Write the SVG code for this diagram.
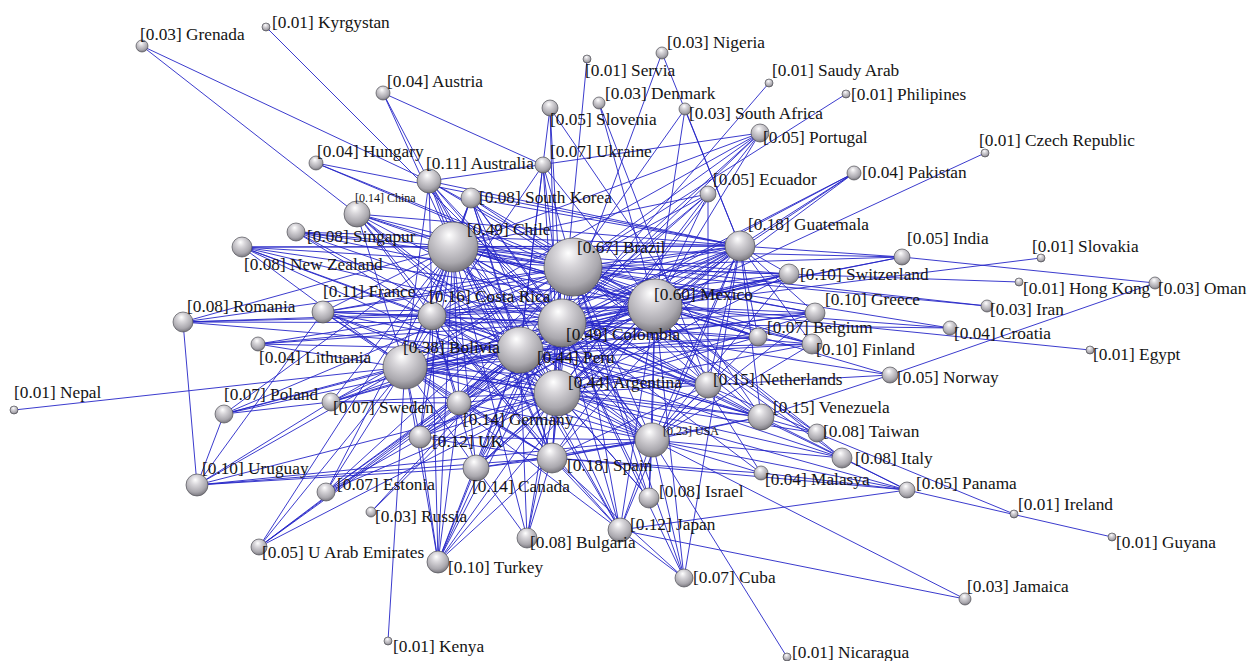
<svg xmlns="http://www.w3.org/2000/svg" width="1255" height="661" viewBox="0 0 1255 661">
<style>
.lbl{font-family:"Liberation Serif","Times New Roman",serif;font-size:17.3px;fill:#141414}
.sm{font-size:12px}
.s{fill:url(#sph);stroke:#505058;stroke-width:0.7}
#edges line{stroke:#2626c8;stroke-width:1;stroke-opacity:0.9}
</style>
<defs>
<radialGradient id="sph" cx="0.45" cy="0.34" r="0.7" fx="0.42" fy="0.26">
<stop offset="0" stop-color="#ffffff"/>
<stop offset="0.3" stop-color="#d8d6da"/>
<stop offset="0.72" stop-color="#aaa8ae"/>
<stop offset="1" stop-color="#6f6d74"/>
</radialGradient>
</defs>
<rect width="1255" height="661" fill="#ffffff"/>
<g id="edges">
<line x1="573" y1="267" x2="655" y2="306"/><line x1="573" y1="267" x2="453" y2="247"/><line x1="573" y1="267" x2="562" y2="323"/><line x1="573" y1="267" x2="520" y2="350"/><line x1="573" y1="267" x2="557" y2="393"/><line x1="573" y1="267" x2="405" y2="367"/><line x1="573" y1="267" x2="652" y2="440"/><line x1="573" y1="267" x2="740" y2="246"/><line x1="573" y1="267" x2="552" y2="458"/><line x1="573" y1="267" x2="432" y2="316"/>
<line x1="655" y1="306" x2="453" y2="247"/><line x1="655" y1="306" x2="562" y2="323"/><line x1="655" y1="306" x2="520" y2="350"/><line x1="655" y1="306" x2="557" y2="393"/><line x1="655" y1="306" x2="405" y2="367"/><line x1="655" y1="306" x2="652" y2="440"/><line x1="655" y1="306" x2="740" y2="246"/><line x1="655" y1="306" x2="552" y2="458"/><line x1="655" y1="306" x2="432" y2="316"/>
<line x1="453" y1="247" x2="562" y2="323"/><line x1="453" y1="247" x2="520" y2="350"/><line x1="453" y1="247" x2="557" y2="393"/><line x1="453" y1="247" x2="405" y2="367"/><line x1="453" y1="247" x2="652" y2="440"/><line x1="453" y1="247" x2="740" y2="246"/><line x1="453" y1="247" x2="552" y2="458"/><line x1="453" y1="247" x2="432" y2="316"/>
<line x1="562" y1="323" x2="520" y2="350"/><line x1="562" y1="323" x2="557" y2="393"/><line x1="562" y1="323" x2="405" y2="367"/><line x1="562" y1="323" x2="652" y2="440"/><line x1="562" y1="323" x2="740" y2="246"/><line x1="562" y1="323" x2="552" y2="458"/><line x1="562" y1="323" x2="432" y2="316"/>
<line x1="520" y1="350" x2="557" y2="393"/><line x1="520" y1="350" x2="405" y2="367"/><line x1="520" y1="350" x2="652" y2="440"/><line x1="520" y1="350" x2="740" y2="246"/><line x1="520" y1="350" x2="552" y2="458"/><line x1="520" y1="350" x2="432" y2="316"/>
<line x1="557" y1="393" x2="405" y2="367"/><line x1="557" y1="393" x2="652" y2="440"/><line x1="557" y1="393" x2="740" y2="246"/><line x1="557" y1="393" x2="552" y2="458"/><line x1="557" y1="393" x2="432" y2="316"/>
<line x1="405" y1="367" x2="652" y2="440"/><line x1="405" y1="367" x2="740" y2="246"/><line x1="405" y1="367" x2="552" y2="458"/><line x1="405" y1="367" x2="432" y2="316"/>
<line x1="652" y1="440" x2="740" y2="246"/><line x1="652" y1="440" x2="552" y2="458"/><line x1="652" y1="440" x2="432" y2="316"/><line x1="740" y1="246" x2="552" y2="458"/><line x1="740" y1="246" x2="432" y2="316"/><line x1="552" y1="458" x2="432" y2="316"/>
<line x1="708" y1="385" x2="573" y2="267"/><line x1="708" y1="385" x2="655" y2="306"/><line x1="708" y1="385" x2="453" y2="247"/><line x1="708" y1="385" x2="562" y2="323"/><line x1="708" y1="385" x2="520" y2="350"/><line x1="708" y1="385" x2="557" y2="393"/><line x1="708" y1="385" x2="405" y2="367"/><line x1="708" y1="385" x2="652" y2="440"/><line x1="708" y1="385" x2="740" y2="246"/><line x1="708" y1="385" x2="552" y2="458"/><line x1="708" y1="385" x2="432" y2="316"/>
<line x1="761" y1="417" x2="573" y2="267"/><line x1="761" y1="417" x2="655" y2="306"/><line x1="761" y1="417" x2="453" y2="247"/><line x1="761" y1="417" x2="562" y2="323"/><line x1="761" y1="417" x2="520" y2="350"/><line x1="761" y1="417" x2="557" y2="393"/><line x1="761" y1="417" x2="405" y2="367"/><line x1="761" y1="417" x2="652" y2="440"/><line x1="761" y1="417" x2="740" y2="246"/><line x1="761" y1="417" x2="552" y2="458"/><line x1="761" y1="417" x2="432" y2="316"/>
<line x1="357" y1="214" x2="573" y2="267"/><line x1="357" y1="214" x2="655" y2="306"/><line x1="357" y1="214" x2="453" y2="247"/><line x1="357" y1="214" x2="562" y2="323"/><line x1="357" y1="214" x2="520" y2="350"/><line x1="357" y1="214" x2="557" y2="393"/><line x1="357" y1="214" x2="405" y2="367"/><line x1="357" y1="214" x2="432" y2="316"/><line x1="357" y1="214" x2="552" y2="458"/><line x1="357" y1="214" x2="652" y2="440"/><line x1="357" y1="214" x2="740" y2="246"/>
<line x1="476" y1="468" x2="573" y2="267"/><line x1="476" y1="468" x2="655" y2="306"/><line x1="476" y1="468" x2="453" y2="247"/><line x1="476" y1="468" x2="562" y2="323"/><line x1="476" y1="468" x2="520" y2="350"/><line x1="476" y1="468" x2="557" y2="393"/><line x1="476" y1="468" x2="405" y2="367"/><line x1="476" y1="468" x2="652" y2="440"/><line x1="476" y1="468" x2="552" y2="458"/><line x1="476" y1="468" x2="432" y2="316"/><line x1="476" y1="468" x2="740" y2="246"/>
<line x1="459" y1="403" x2="573" y2="267"/><line x1="459" y1="403" x2="655" y2="306"/><line x1="459" y1="403" x2="453" y2="247"/><line x1="459" y1="403" x2="562" y2="323"/><line x1="459" y1="403" x2="520" y2="350"/><line x1="459" y1="403" x2="557" y2="393"/><line x1="459" y1="403" x2="405" y2="367"/><line x1="459" y1="403" x2="652" y2="440"/><line x1="459" y1="403" x2="552" y2="458"/><line x1="459" y1="403" x2="432" y2="316"/><line x1="459" y1="403" x2="740" y2="246"/>
<line x1="620" y1="530" x2="573" y2="267"/><line x1="620" y1="530" x2="655" y2="306"/><line x1="620" y1="530" x2="453" y2="247"/><line x1="620" y1="530" x2="562" y2="323"/><line x1="620" y1="530" x2="520" y2="350"/><line x1="620" y1="530" x2="557" y2="393"/><line x1="620" y1="530" x2="405" y2="367"/><line x1="620" y1="530" x2="652" y2="440"/><line x1="620" y1="530" x2="552" y2="458"/><line x1="620" y1="530" x2="740" y2="246"/><line x1="620" y1="530" x2="432" y2="316"/>
<line x1="429" y1="181" x2="573" y2="267"/><line x1="429" y1="181" x2="655" y2="306"/><line x1="429" y1="181" x2="453" y2="247"/><line x1="429" y1="181" x2="562" y2="323"/><line x1="429" y1="181" x2="520" y2="350"/><line x1="429" y1="181" x2="557" y2="393"/><line x1="429" y1="181" x2="405" y2="367"/><line x1="429" y1="181" x2="432" y2="316"/><line x1="429" y1="181" x2="740" y2="246"/><line x1="429" y1="181" x2="652" y2="440"/><line x1="429" y1="181" x2="552" y2="458"/>
<line x1="420" y1="437" x2="573" y2="267"/><line x1="420" y1="437" x2="655" y2="306"/><line x1="420" y1="437" x2="453" y2="247"/><line x1="420" y1="437" x2="562" y2="323"/><line x1="420" y1="437" x2="520" y2="350"/><line x1="420" y1="437" x2="557" y2="393"/><line x1="420" y1="437" x2="405" y2="367"/><line x1="420" y1="437" x2="652" y2="440"/><line x1="420" y1="437" x2="552" y2="458"/><line x1="420" y1="437" x2="740" y2="246"/><line x1="420" y1="437" x2="432" y2="316"/>
<line x1="438" y1="562" x2="573" y2="267"/><line x1="438" y1="562" x2="655" y2="306"/><line x1="438" y1="562" x2="453" y2="247"/><line x1="438" y1="562" x2="562" y2="323"/><line x1="438" y1="562" x2="520" y2="350"/><line x1="438" y1="562" x2="557" y2="393"/><line x1="438" y1="562" x2="405" y2="367"/><line x1="438" y1="562" x2="432" y2="316"/><line x1="438" y1="562" x2="459" y2="403"/><line x1="438" y1="562" x2="420" y2="437"/><line x1="438" y1="562" x2="476" y2="468"/><line x1="438" y1="562" x2="552" y2="458"/>
<line x1="323" y1="312" x2="573" y2="267"/><line x1="323" y1="312" x2="655" y2="306"/><line x1="323" y1="312" x2="453" y2="247"/><line x1="323" y1="312" x2="562" y2="323"/><line x1="323" y1="312" x2="520" y2="350"/><line x1="323" y1="312" x2="557" y2="393"/><line x1="323" y1="312" x2="405" y2="367"/><line x1="323" y1="312" x2="432" y2="316"/><line x1="323" y1="312" x2="740" y2="246"/><line x1="323" y1="312" x2="652" y2="440"/><line x1="323" y1="312" x2="552" y2="458"/>
<line x1="789" y1="274" x2="573" y2="267"/><line x1="789" y1="274" x2="655" y2="306"/><line x1="789" y1="274" x2="453" y2="247"/><line x1="789" y1="274" x2="562" y2="323"/><line x1="789" y1="274" x2="520" y2="350"/><line x1="789" y1="274" x2="557" y2="393"/><line x1="789" y1="274" x2="405" y2="367"/><line x1="789" y1="274" x2="740" y2="246"/><line x1="789" y1="274" x2="652" y2="440"/><line x1="789" y1="274" x2="432" y2="316"/>
<line x1="815" y1="313" x2="573" y2="267"/><line x1="815" y1="313" x2="655" y2="306"/><line x1="815" y1="313" x2="453" y2="247"/><line x1="815" y1="313" x2="562" y2="323"/><line x1="815" y1="313" x2="520" y2="350"/><line x1="815" y1="313" x2="557" y2="393"/><line x1="815" y1="313" x2="405" y2="367"/><line x1="815" y1="313" x2="740" y2="246"/><line x1="815" y1="313" x2="652" y2="440"/>
<line x1="812" y1="344" x2="573" y2="267"/><line x1="812" y1="344" x2="655" y2="306"/><line x1="812" y1="344" x2="453" y2="247"/><line x1="812" y1="344" x2="562" y2="323"/><line x1="812" y1="344" x2="520" y2="350"/><line x1="812" y1="344" x2="557" y2="393"/><line x1="812" y1="344" x2="405" y2="367"/><line x1="812" y1="344" x2="740" y2="246"/><line x1="812" y1="344" x2="652" y2="440"/>
<line x1="471" y1="198" x2="573" y2="267"/><line x1="471" y1="198" x2="655" y2="306"/><line x1="471" y1="198" x2="453" y2="247"/><line x1="471" y1="198" x2="562" y2="323"/><line x1="471" y1="198" x2="520" y2="350"/><line x1="471" y1="198" x2="557" y2="393"/><line x1="471" y1="198" x2="405" y2="367"/><line x1="471" y1="198" x2="432" y2="316"/><line x1="471" y1="198" x2="740" y2="246"/><line x1="471" y1="198" x2="652" y2="440"/><line x1="471" y1="198" x2="552" y2="458"/>
<line x1="758" y1="337" x2="573" y2="267"/><line x1="758" y1="337" x2="655" y2="306"/><line x1="758" y1="337" x2="453" y2="247"/><line x1="758" y1="337" x2="562" y2="323"/><line x1="758" y1="337" x2="520" y2="350"/><line x1="758" y1="337" x2="557" y2="393"/><line x1="758" y1="337" x2="405" y2="367"/><line x1="758" y1="337" x2="740" y2="246"/><line x1="758" y1="337" x2="652" y2="440"/>
<line x1="842" y1="458" x2="655" y2="306"/><line x1="842" y1="458" x2="562" y2="323"/><line x1="842" y1="458" x2="557" y2="393"/><line x1="842" y1="458" x2="520" y2="350"/><line x1="842" y1="458" x2="652" y2="440"/><line x1="842" y1="458" x2="907" y2="490"/><line x1="842" y1="458" x2="573" y2="267"/>
<line x1="817" y1="433" x2="655" y2="306"/><line x1="817" y1="433" x2="562" y2="323"/><line x1="817" y1="433" x2="573" y2="267"/><line x1="817" y1="433" x2="557" y2="393"/><line x1="817" y1="433" x2="1014" y2="514"/><line x1="817" y1="433" x2="520" y2="350"/>
<line x1="649" y1="498" x2="652" y2="440"/><line x1="649" y1="498" x2="655" y2="306"/><line x1="649" y1="498" x2="562" y2="323"/><line x1="649" y1="498" x2="573" y2="267"/><line x1="649" y1="498" x2="557" y2="393"/><line x1="649" y1="498" x2="520" y2="350"/>
<line x1="527" y1="538" x2="552" y2="458"/><line x1="527" y1="538" x2="557" y2="393"/><line x1="527" y1="538" x2="520" y2="350"/><line x1="527" y1="538" x2="562" y2="323"/><line x1="527" y1="538" x2="476" y2="468"/><line x1="527" y1="538" x2="453" y2="247"/>
<line x1="684" y1="578" x2="652" y2="440"/><line x1="684" y1="578" x2="655" y2="306"/><line x1="684" y1="578" x2="573" y2="267"/><line x1="684" y1="578" x2="562" y2="323"/><line x1="684" y1="578" x2="740" y2="246"/><line x1="684" y1="578" x2="620" y2="530"/><line x1="684" y1="578" x2="552" y2="458"/>
<line x1="761" y1="473" x2="652" y2="440"/><line x1="761" y1="473" x2="552" y2="458"/><line x1="761" y1="473" x2="655" y2="306"/><line x1="761" y1="473" x2="562" y2="323"/><line x1="761" y1="473" x2="907" y2="490"/>
<line x1="907" y1="490" x2="652" y2="440"/><line x1="907" y1="490" x2="552" y2="458"/><line x1="907" y1="490" x2="557" y2="393"/><line x1="907" y1="490" x2="620" y2="530"/><line x1="907" y1="490" x2="1112" y2="537"/><line x1="907" y1="490" x2="761" y2="417"/>
<line x1="890" y1="375" x2="655" y2="306"/><line x1="890" y1="375" x2="708" y2="385"/><line x1="890" y1="375" x2="761" y2="417"/><line x1="890" y1="375" x2="562" y2="323"/><line x1="890" y1="375" x2="1155" y2="283"/>
<line x1="902" y1="257" x2="740" y2="246"/><line x1="902" y1="257" x2="573" y2="267"/><line x1="902" y1="257" x2="453" y2="247"/><line x1="902" y1="257" x2="655" y2="306"/><line x1="902" y1="257" x2="562" y2="323"/><line x1="902" y1="257" x2="1155" y2="283"/>
<line x1="950" y1="328" x2="655" y2="306"/><line x1="950" y1="328" x2="573" y2="267"/><line x1="950" y1="328" x2="562" y2="323"/>
<line x1="987" y1="306" x2="573" y2="267"/><line x1="987" y1="306" x2="453" y2="247"/>
<line x1="854" y1="173" x2="655" y2="306"/><line x1="854" y1="173" x2="562" y2="323"/><line x1="854" y1="173" x2="557" y2="393"/><line x1="854" y1="173" x2="740" y2="246"/><line x1="854" y1="173" x2="520" y2="350"/>
<line x1="760" y1="133" x2="573" y2="267"/><line x1="760" y1="133" x2="655" y2="306"/><line x1="760" y1="133" x2="562" y2="323"/><line x1="760" y1="133" x2="453" y2="247"/><line x1="760" y1="133" x2="557" y2="393"/><line x1="760" y1="133" x2="520" y2="350"/><line x1="760" y1="133" x2="432" y2="316"/><line x1="760" y1="133" x2="429" y2="181"/>
<line x1="708" y1="194" x2="573" y2="267"/><line x1="708" y1="194" x2="655" y2="306"/><line x1="708" y1="194" x2="562" y2="323"/><line x1="708" y1="194" x2="520" y2="350"/><line x1="708" y1="194" x2="557" y2="393"/><line x1="708" y1="194" x2="453" y2="247"/><line x1="708" y1="194" x2="708" y2="385"/>
<line x1="685" y1="109" x2="573" y2="267"/><line x1="685" y1="109" x2="655" y2="306"/><line x1="685" y1="109" x2="740" y2="246"/>
<line x1="662" y1="53" x2="562" y2="323"/><line x1="662" y1="53" x2="740" y2="246"/>
<line x1="599" y1="103" x2="655" y2="306"/><line x1="599" y1="103" x2="708" y2="385"/>
<line x1="587" y1="59" x2="562" y2="323"/>
<line x1="550" y1="108" x2="562" y2="323"/><line x1="550" y1="108" x2="557" y2="393"/><line x1="550" y1="108" x2="761" y2="417"/><line x1="550" y1="108" x2="520" y2="350"/>
<line x1="543" y1="165" x2="562" y2="323"/><line x1="543" y1="165" x2="520" y2="350"/><line x1="543" y1="165" x2="557" y2="393"/><line x1="543" y1="165" x2="655" y2="306"/><line x1="543" y1="165" x2="573" y2="267"/><line x1="543" y1="165" x2="405" y2="367"/><line x1="543" y1="165" x2="383" y2="93"/>
<line x1="769" y1="83" x2="562" y2="323"/>
<line x1="846" y1="94" x2="573" y2="267"/>
<line x1="985" y1="153" x2="655" y2="306"/>
<line x1="1041" y1="258" x2="655" y2="306"/>
<line x1="1019" y1="282" x2="573" y2="267"/>
<line x1="1090" y1="350" x2="655" y2="306"/>
<line x1="383" y1="93" x2="429" y2="181"/><line x1="383" y1="93" x2="453" y2="247"/>
<line x1="316" y1="163" x2="740" y2="246"/><line x1="316" y1="163" x2="573" y2="267"/><line x1="316" y1="163" x2="655" y2="306"/>
<line x1="142" y1="46" x2="357" y2="214"/><line x1="142" y1="46" x2="429" y2="181"/>
<line x1="266" y1="27" x2="562" y2="323"/>
<line x1="296" y1="232" x2="453" y2="247"/><line x1="296" y1="232" x2="573" y2="267"/><line x1="296" y1="232" x2="655" y2="306"/><line x1="296" y1="232" x2="562" y2="323"/><line x1="296" y1="232" x2="520" y2="350"/><line x1="296" y1="232" x2="432" y2="316"/><line x1="296" y1="232" x2="740" y2="246"/>
<line x1="242" y1="247" x2="453" y2="247"/><line x1="242" y1="247" x2="573" y2="267"/><line x1="242" y1="247" x2="655" y2="306"/><line x1="242" y1="247" x2="562" y2="323"/><line x1="242" y1="247" x2="432" y2="316"/><line x1="242" y1="247" x2="520" y2="350"/><line x1="242" y1="247" x2="557" y2="393"/><line x1="242" y1="247" x2="405" y2="367"/><line x1="242" y1="247" x2="740" y2="246"/>
<line x1="183" y1="322" x2="573" y2="267"/><line x1="183" y1="322" x2="562" y2="323"/><line x1="183" y1="322" x2="520" y2="350"/><line x1="183" y1="322" x2="655" y2="306"/><line x1="183" y1="322" x2="453" y2="247"/><line x1="183" y1="322" x2="197" y2="485"/><line x1="183" y1="322" x2="432" y2="316"/>
<line x1="258" y1="344" x2="562" y2="323"/><line x1="258" y1="344" x2="520" y2="350"/><line x1="258" y1="344" x2="655" y2="306"/><line x1="258" y1="344" x2="557" y2="393"/><line x1="258" y1="344" x2="432" y2="316"/>
<line x1="224" y1="414" x2="331" y2="402"/><line x1="224" y1="414" x2="405" y2="367"/><line x1="224" y1="414" x2="453" y2="247"/><line x1="224" y1="414" x2="562" y2="323"/><line x1="224" y1="414" x2="520" y2="350"/><line x1="224" y1="414" x2="573" y2="267"/>
<line x1="331" y1="402" x2="405" y2="367"/><line x1="331" y1="402" x2="520" y2="350"/><line x1="331" y1="402" x2="562" y2="323"/><line x1="331" y1="402" x2="557" y2="393"/><line x1="331" y1="402" x2="655" y2="306"/><line x1="331" y1="402" x2="573" y2="267"/><line x1="331" y1="402" x2="459" y2="403"/><line x1="331" y1="402" x2="453" y2="247"/>
<line x1="14" y1="410" x2="405" y2="367"/>
<line x1="197" y1="485" x2="224" y2="414"/><line x1="197" y1="485" x2="323" y2="312"/><line x1="197" y1="485" x2="331" y2="402"/><line x1="197" y1="485" x2="405" y2="367"/><line x1="197" y1="485" x2="476" y2="468"/><line x1="197" y1="485" x2="552" y2="458"/><line x1="197" y1="485" x2="652" y2="440"/><line x1="197" y1="485" x2="557" y2="393"/>
<line x1="259" y1="547" x2="453" y2="247"/><line x1="259" y1="547" x2="405" y2="367"/><line x1="259" y1="547" x2="520" y2="350"/><line x1="259" y1="547" x2="562" y2="323"/><line x1="259" y1="547" x2="557" y2="393"/><line x1="259" y1="547" x2="459" y2="403"/>
<line x1="326" y1="492" x2="453" y2="247"/><line x1="326" y1="492" x2="405" y2="367"/><line x1="326" y1="492" x2="520" y2="350"/><line x1="326" y1="492" x2="562" y2="323"/><line x1="326" y1="492" x2="573" y2="267"/><line x1="326" y1="492" x2="557" y2="393"/><line x1="326" y1="492" x2="655" y2="306"/>
<line x1="371" y1="512" x2="520" y2="350"/><line x1="371" y1="512" x2="562" y2="323"/>
<line x1="388" y1="641" x2="405" y2="367"/>
<line x1="965" y1="599" x2="652" y2="440"/><line x1="965" y1="599" x2="620" y2="530"/>
<line x1="787" y1="657" x2="652" y2="440"/>
</g>
<g id="nodes">
<g id="n-brazil"><circle class="s" cx="573" cy="267" r="29"/><text class="lbl" x="577" y="253">[0.67] Brazil</text></g>
<g id="n-mexico"><circle class="s" cx="655" cy="306" r="27"/><text class="lbl" x="654" y="300">[0.60] Mexico</text></g>
<g id="n-chile"><circle class="s" cx="453" cy="247" r="25"/><text class="lbl" x="467" y="235">[0.49] Chile</text></g>
<g id="n-colombia"><circle class="s" cx="562" cy="323" r="24"/><text class="lbl" x="566" y="340">[0.49] Colombia</text></g>
<g id="n-peru"><circle class="s" cx="520" cy="350" r="23"/><text class="lbl" x="537" y="363">[0.44] Peru</text></g>
<g id="n-argentina"><circle class="s" cx="557" cy="393" r="23"/><text class="lbl" x="568" y="388">[0.44] Argentina</text></g>
<g id="n-bolivia"><circle class="s" cx="405" cy="367" r="22"/><text class="lbl" x="403" y="353">[0.38] Bolivia</text></g>
<g id="n-usa"><circle class="s" cx="652" cy="440" r="17"/><text class="lbl sm" x="663" y="435">[0.23] USA</text></g>
<g id="n-guatemala"><circle class="s" cx="740" cy="246" r="15"/><text class="lbl" x="748" y="230">[0.18] Guatemala</text></g>
<g id="n-spain"><circle class="s" cx="552" cy="458" r="15"/><text class="lbl" x="567" y="471">[0.18] Spain</text></g>
<g id="n-costarica"><circle class="s" cx="432" cy="316" r="14"/><text class="lbl" x="429" y="302">[0.16] Costa Rica</text></g>
<g id="n-netherlands"><circle class="s" cx="708" cy="385" r="13"/><text class="lbl" x="713" y="385">[0.15] Netherlands</text></g>
<g id="n-venezuela"><circle class="s" cx="761" cy="417" r="13"/><text class="lbl" x="773" y="413">[0.15] Venezuela</text></g>
<g id="n-china"><circle class="s" cx="357" cy="214" r="13"/><text class="lbl sm" x="355" y="202">[0.14] China</text></g>
<g id="n-canada"><circle class="s" cx="476" cy="468" r="13"/><text class="lbl" x="472" y="492">[0.14] Canada</text></g>
<g id="n-germany"><circle class="s" cx="459" cy="403" r="12"/><text class="lbl" x="463" y="425">[0.14] Germany</text></g>
<g id="n-japan"><circle class="s" cx="620" cy="530" r="12"/><text class="lbl" x="630" y="530">[0.12] Japan</text></g>
<g id="n-australia"><circle class="s" cx="429" cy="181" r="12"/><text class="lbl" x="426" y="169">[0.11] Australia</text></g>
<g id="n-uk"><circle class="s" cx="420" cy="437" r="11"/><text class="lbl" x="432" y="447">[0.12] UK</text></g>
<g id="n-turkey"><circle class="s" cx="438" cy="562" r="11"/><text class="lbl" x="448" y="573">[0.10] Turkey</text></g>
<g id="n-france"><circle class="s" cx="323" cy="312" r="11"/><text class="lbl" x="323" y="297">[0.11] France</text></g>
<g id="n-uruguay"><circle class="s" cx="197" cy="485" r="11"/><text class="lbl" x="202" y="474">[0.10] Uruguay</text></g>
<g id="n-switzerland"><circle class="s" cx="789" cy="274" r="10"/><text class="lbl" x="800" y="280">[0.10] Switzerland</text></g>
<g id="n-greece"><circle class="s" cx="815" cy="313" r="10"/><text class="lbl" x="825" y="305">[0.10] Greece</text></g>
<g id="n-finland"><circle class="s" cx="812" cy="344" r="10"/><text class="lbl" x="816" y="355">[0.10] Finland</text></g>
<g id="n-italy"><circle class="s" cx="842" cy="458" r="10"/><text class="lbl" x="855" y="464">[0.08] Italy</text></g>
<g id="n-southkorea"><circle class="s" cx="471" cy="198" r="10"/><text class="lbl" x="479" y="203">[0.08] South Korea</text></g>
<g id="n-romania"><circle class="s" cx="183" cy="322" r="10"/><text class="lbl" x="187" y="312">[0.08] Romania</text></g>
<g id="n-newzealand"><circle class="s" cx="242" cy="247" r="10"/><text class="lbl" x="244" y="270">[0.08] New Zealand</text></g>
<g id="n-israel"><circle class="s" cx="649" cy="498" r="10"/><text class="lbl" x="659" y="497">[0.08] Israel</text></g>
<g id="n-bulgaria"><circle class="s" cx="527" cy="538" r="10"/><text class="lbl" x="530" y="548">[0.08] Bulgaria</text></g>
<g id="n-singapur"><circle class="s" cx="296" cy="232" r="9"/><text class="lbl" x="307" y="242">[0.08] Singapur</text></g>
<g id="n-belgium"><circle class="s" cx="758" cy="337" r="9"/><text class="lbl" x="767" y="333">[0.07] Belgium</text></g>
<g id="n-taiwan"><circle class="s" cx="817" cy="433" r="9"/><text class="lbl" x="823" y="437">[0.08] Taiwan</text></g>
<g id="n-sweden"><circle class="s" cx="331" cy="402" r="9"/><text class="lbl" x="333" y="413">[0.07] Sweden</text></g>
<g id="n-poland"><circle class="s" cx="224" cy="414" r="9"/><text class="lbl" x="224" y="400">[0.07] Poland</text></g>
<g id="n-estonia"><circle class="s" cx="326" cy="492" r="9"/><text class="lbl" x="337" y="490">[0.07] Estonia</text></g>
<g id="n-cuba"><circle class="s" cx="684" cy="578" r="9"/><text class="lbl" x="693" y="583">[0.07] Cuba</text></g>
<g id="n-portugal"><circle class="s" cx="760" cy="133" r="9"/><text class="lbl" x="763" y="143">[0.05] Portugal</text></g>
<g id="n-ukraine"><circle class="s" cx="543" cy="165" r="8"/><text class="lbl" x="550" y="157">[0.07] Ukraine</text></g>
<g id="n-slovenia"><circle class="s" cx="550" cy="108" r="8"/><text class="lbl" x="550" y="125">[0.05] Slovenia</text></g>
<g id="n-ecuador"><circle class="s" cx="708" cy="194" r="8"/><text class="lbl" x="713" y="185">[0.05] Ecuador</text></g>
<g id="n-india"><circle class="s" cx="902" cy="257" r="8"/><text class="lbl" x="907" y="244">[0.05] India</text></g>
<g id="n-norway"><circle class="s" cx="890" cy="375" r="8"/><text class="lbl" x="897" y="383">[0.05] Norway</text></g>
<g id="n-panama"><circle class="s" cx="907" cy="490" r="8"/><text class="lbl" x="916" y="489">[0.05] Panama</text></g>
<g id="n-uae"><circle class="s" cx="259" cy="547" r="8"/><text class="lbl" x="262" y="558">[0.05] U Arab Emirates</text></g>
<g id="n-austria"><circle class="s" cx="383" cy="93" r="7"/><text class="lbl" x="387" y="87">[0.04] Austria</text></g>
<g id="n-hungary"><circle class="s" cx="316" cy="163" r="7"/><text class="lbl" x="317" y="157">[0.04] Hungary</text></g>
<g id="n-pakistan"><circle class="s" cx="854" cy="173" r="7"/><text class="lbl" x="862" y="178">[0.04] Pakistan</text></g>
<g id="n-croatia"><circle class="s" cx="950" cy="328" r="7"/><text class="lbl" x="954" y="339">[0.04] Croatia</text></g>
<g id="n-lithuania"><circle class="s" cx="258" cy="344" r="7"/><text class="lbl" x="259" y="363">[0.04] Lithuania</text></g>
<g id="n-malasya"><circle class="s" cx="761" cy="473" r="7"/><text class="lbl" x="765" y="485">[0.04] Malasya</text></g>
<g id="n-grenada"><circle class="s" cx="142" cy="46" r="6"/><text class="lbl" x="140" y="40">[0.03] Grenada</text></g>
<g id="n-nigeria"><circle class="s" cx="662" cy="53" r="6"/><text class="lbl" x="667" y="48">[0.03] Nigeria</text></g>
<g id="n-denmark"><circle class="s" cx="599" cy="103" r="6"/><text class="lbl" x="605" y="99">[0.03] Denmark</text></g>
<g id="n-southafrica"><circle class="s" cx="685" cy="109" r="6"/><text class="lbl" x="689" y="119">[0.03] South Africa</text></g>
<g id="n-oman"><circle class="s" cx="1155" cy="283" r="6"/><text class="lbl" x="1158" y="294">[0.03] Oman</text></g>
<g id="n-iran"><circle class="s" cx="987" cy="306" r="6"/><text class="lbl" x="990" y="315">[0.03] Iran</text></g>
<g id="n-jamaica"><circle class="s" cx="965" cy="599" r="6"/><text class="lbl" x="967" y="592">[0.03] Jamaica</text></g>
<g id="n-russia"><circle class="s" cx="371" cy="512" r="5"/><text class="lbl" x="375" y="522">[0.03] Russia</text></g>
<g id="n-kyrgystan"><circle class="s" cx="266" cy="27" r="4"/><text class="lbl" x="272" y="28">[0.01] Kyrgystan</text></g>
<g id="n-servia"><circle class="s" cx="587" cy="59" r="4"/><text class="lbl" x="585" y="76">[0.01] Servia</text></g>
<g id="n-saudyarab"><circle class="s" cx="769" cy="83" r="4"/><text class="lbl" x="772" y="76">[0.01] Saudy Arab</text></g>
<g id="n-philipines"><circle class="s" cx="846" cy="94" r="4"/><text class="lbl" x="851" y="100">[0.01] Philipines</text></g>
<g id="n-czech"><circle class="s" cx="985" cy="153" r="4"/><text class="lbl" x="979" y="146">[0.01] Czech Republic</text></g>
<g id="n-slovakia"><circle class="s" cx="1041" cy="258" r="4"/><text class="lbl" x="1032" y="252">[0.01] Slovakia</text></g>
<g id="n-hongkong"><circle class="s" cx="1019" cy="282" r="4"/><text class="lbl" x="1023" y="294">[0.01] Hong Kong</text></g>
<g id="n-egypt"><circle class="s" cx="1090" cy="350" r="4"/><text class="lbl" x="1093" y="360">[0.01] Egypt</text></g>
<g id="n-ireland"><circle class="s" cx="1014" cy="514" r="4"/><text class="lbl" x="1018" y="510">[0.01] Ireland</text></g>
<g id="n-guyana"><circle class="s" cx="1112" cy="537" r="4"/><text class="lbl" x="1116" y="548">[0.01] Guyana</text></g>
<g id="n-nicaragua"><circle class="s" cx="787" cy="657" r="4"/><text class="lbl" x="792" y="658">[0.01] Nicaragua</text></g>
<g id="n-kenya"><circle class="s" cx="388" cy="641" r="4"/><text class="lbl" x="393" y="652">[0.01] Kenya</text></g>
<g id="n-nepal"><circle class="s" cx="14" cy="410" r="4"/><text class="lbl" x="14" y="398">[0.01] Nepal</text></g>
</g>
</svg>
